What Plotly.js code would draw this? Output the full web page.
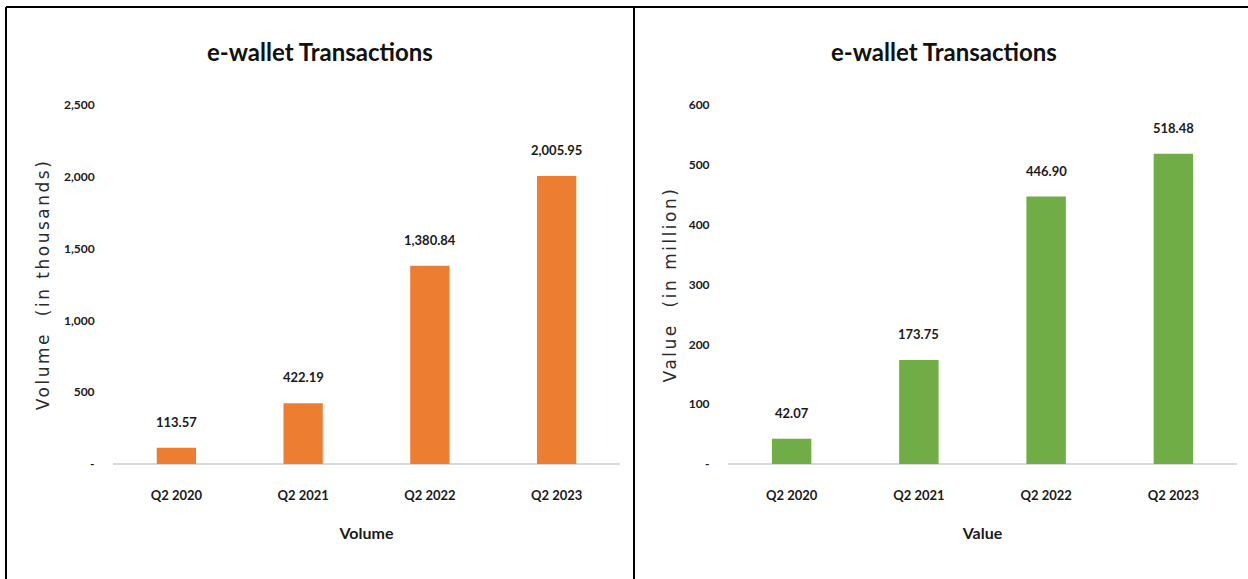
<!DOCTYPE html>
<html>
<head>
<meta charset="utf-8">
<script src="https://cdn.plot.ly/plotly-3.0.1.min.js"></script>
<style>html,body{margin:0;padding:0;background:#fff;}#chart{width:1248px;height:579px;}</style>
</head>
<body>
<div id="chart"></div>
<script>
const categories = ["Q2 2020", "Q2 2021", "Q2 2022", "Q2 2023"];
const volumeValues = [113.57, 422.19, 1380.84, 2005.95];
const valueValues = [42.07, 173.75, 446.90, 518.48];
const volumeTickVals = [0, 500, 1000, 1500, 2000, 2500];
const volumeTickText = ["-", "500", "1,000", "1,500", "2,000", "2,500"];
const valueTickVals = [0, 100, 200, 300, 400, 500, 600];
const valueTickText = ["-", "100", "200", "300", "400", "500", "600"];

const FONT = 'Lato, "Open Sans", sans-serif';
const YT_FONT = '"DejaVu Sans", Verdana, sans-serif';
const W = 1248, H = 579;
const fmt = v => v.toLocaleString('en-US', {minimumFractionDigits: 2, maximumFractionDigits: 2});

const traces = [
  {type: 'bar', x: categories, y: volumeValues, xaxis: 'x', yaxis: 'y',
   marker: {color: '#ED7D31'}, hoverinfo: 'x+y', showlegend: false},
  {type: 'bar', x: categories, y: valueValues, xaxis: 'x2', yaxis: 'y2',
   marker: {color: '#70AD47'}, hoverinfo: 'x+y', showlegend: false}
];

const labelFont = {family: FONT, size: 13, color: '#1a1a1a', weight: 'bold'};
const annotations = [];
categories.forEach((c, i) => {
  annotations.push({x: c, y: volumeValues[i], xref: 'x', yref: 'y', text: fmt(volumeValues[i]),
    showarrow: false, yanchor: 'bottom', yshift: 16, font: labelFont});
  annotations.push({x: c, y: valueValues[i], xref: 'x2', yref: 'y2', text: fmt(valueValues[i]),
    showarrow: false, yanchor: 'bottom', yshift: 16, font: labelFont});
});
const titleFont = {family: FONT, size: 24, color: '#111', weight: 'bold'};
annotations.push({x: 320 / W, y: 1 - 52 / H, xref: 'paper', yref: 'paper', xanchor: 'center', yanchor: 'middle',
  text: 'e-wallet Transactions', showarrow: false, font: titleFont});
annotations.push({x: 944 / W, y: 1 - 52 / H, xref: 'paper', yref: 'paper', xanchor: 'center', yanchor: 'middle',
  text: 'e-wallet Transactions', showarrow: false, font: titleFont});

const yDomain = [1 - 464 / H, 1 - 105 / H];
const tickFont = {family: FONT, size: 12, color: '#1a1a1a', weight: 'bold'};
const xAxisBase = {type: 'category', showgrid: false, zeroline: false, showline: false,
  ticks: 'outside', ticklen: 19, tickcolor: 'rgba(0,0,0,0)', tickfont: {family: FONT, size: 13, color: '#1a1a1a', weight: 'bold'},
  fixedrange: true};
const yAxisBase = {showgrid: false, zeroline: true, zerolinecolor: '#d9d9d9', zerolinewidth: 2, showline: false,
  ticks: 'outside', ticklen: 15, tickcolor: 'rgba(0,0,0,0)', tickfont: tickFont, fixedrange: true, domain: yDomain};
const xTitleFont = {family: FONT, size: 16, color: '#1a1a1a', weight: 'bold'};
const yTitleFont = {family: YT_FONT, size: 17, color: '#2b2b2b'};

const layout = {
  width: W, height: H,
  margin: {l: 0, r: 0, t: 0, b: 0},
  paper_bgcolor: '#fff', plot_bgcolor: '#fff',
  bargap: 0.69,
  xaxis: Object.assign({}, xAxisBase, {domain: [113 / W, 620 / W], anchor: 'y',
    title: {text: 'Volume', standoff: 26, font: xTitleFont}}),
  yaxis: Object.assign({}, yAxisBase, {anchor: 'x', range: [0, 2500], tickvals: volumeTickVals, ticktext: volumeTickText,
    title: {text: 'Volume  (in thousands)', standoff: 9, font: yTitleFont}}),
  xaxis2: Object.assign({}, xAxisBase, {domain: [728 / W, 1237 / W], anchor: 'y2',
    title: {text: 'Value', standoff: 26, font: xTitleFont}}),
  yaxis2: Object.assign({}, yAxisBase, {anchor: 'x2', range: [0, 600], tickvals: valueTickVals, ticktext: valueTickText,
    title: {text: 'Value  (in million)', standoff: 7, font: yTitleFont}}),
  annotations: annotations,
  shapes: [
    {type: 'line', xref: 'paper', yref: 'paper', x0: 6 / W, x1: 1, y0: 1 - 7 / H, y1: 1 - 7 / H, line: {color: '#000', width: 2}},
    {type: 'line', xref: 'paper', yref: 'paper', x0: 6 / W, x1: 6 / W, y0: 0, y1: 1 - 7 / H, line: {color: '#000', width: 2}},
    {type: 'line', xref: 'paper', yref: 'paper', x0: 634 / W, x1: 634 / W, y0: 0, y1: 1 - 7 / H, line: {color: '#000', width: 2}}
  ]
};

Plotly.newPlot('chart', traces, layout, {displayModeBar: false, staticPlot: true}).then(gd => {
  gd.querySelectorAll('.g-ytitle text, .g-y2title text').forEach(t => {
    t.setAttribute('letter-spacing', '2.5px');
  });
});
</script>
</body>
</html>
